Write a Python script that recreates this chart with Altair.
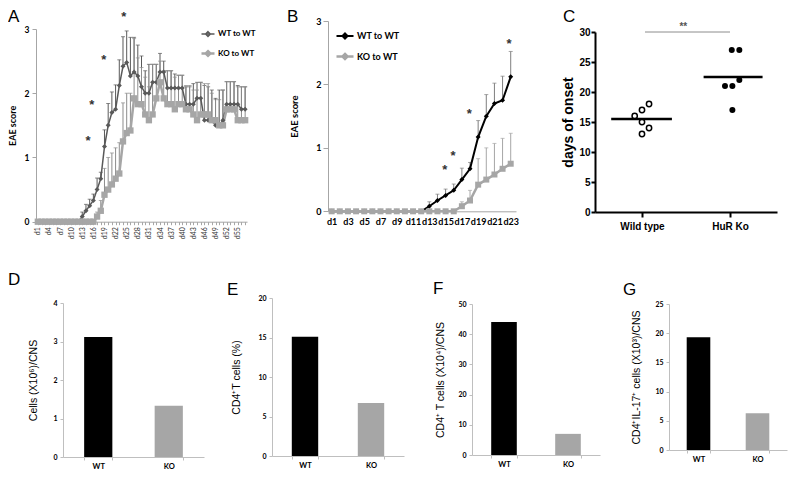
import altair as alt
import pandas as pd

XL = "Lato"              # Excel-style panels
PR = "Liberation Sans"   # Arial-style text

SERIES = ["WT to WT", "KO to WT"]

# ---------------- Panel A : EAE score d1..d57 ----------------
A_DAYS = list(range(1, 58))
A_WT = [0] * 12 + [0.08, 0.17, 0.25, 0.33, 0.5, 0.67, 1.17, 1.5, 1.7, 1.75, 2.12, 2.42, 2.48,
                   2.27, 2.33, 2.27, 2.1, 2.0, 2.0, 2.17, 2.17, 2.33, 2.33, 2.08, 2.08, 2.08,
                   2.08, 2.08, 1.83, 1.83, 1.83, 1.92, 1.92, 1.58, 1.58, 1.58, 1.5, 1.5, 1.58,
                   1.83, 1.83, 1.83, 1.83, 1.75, 1.75]
A_KO = [0] * 16 + [0.08, 0.17, 0.42, 0.5, 0.58, 0.67, 0.75, 1.25, 1.38, 1.42, 1.92, 1.83, 1.83,
                   1.67, 1.58, 1.67, 1.92, 2.17, 1.92, 1.83, 1.83, 1.75, 1.83, 1.83, 1.75, 1.75,
                   1.67, 1.58, 1.67, 1.67, 1.67, 1.58, 1.58, 1.5, 1.5, 1.75, 1.75, 1.75, 1.58,
                   1.58, 1.58]
A_WT_UP_FROM = 13
A_WT_UP = [0.15, 0.27, 0.35, 0.43, 0.68, 0.77, 1.43, 1.84, 2.02, 2.13, 2.52, 2.88, 2.97,
           2.87, 2.87, 2.75, 2.58, 2.35, 2.45, 2.45, 2.45, 2.62, 2.5, 2.35, 2.35, 2.3,
           2.28, 2.28, 2.1, 2.1, 2.15, 2.17, 2.17, 2.12, 2.1, 2.05, 1.92, 2.05, 2.05,
           2.18, 2.18, 2.18, 2.12, 2.1, 2.1]
A_KO_UP_FROM = 17
A_KO_UP = [0.15, 0.33, 0.83, 1.0, 1.07, 1.15, 1.23, 1.85, 2.0, 2.0, 2.85, 2.55, 2.4,
           2.25, 2.1, 2.45, 2.45, 2.5, 2.35, 2.35, 2.35, 2.25, 2.28, 2.28, 2.12, 2.12,
           2.05, 2.05, 2.17, 2.15, 2.15, 2.0, 1.9, 1.9, 2.05, 2.18, 2.18, 2.18, 2.1,
           2.1, 2.1]
A_STAR_DAY = [14.55, 15.6, 18.8, 24.2]
A_STAR_Y = [1.27, 1.84, 2.54, 3.2]

# ---------------- Panel B : EAE score d1..d23 ----------------
B_DAYS = list(range(1, 24))
B_WT = [0] * 12 + [0.08, 0.17, 0.25, 0.33, 0.5, 0.67, 1.17, 1.5, 1.7, 1.75, 2.12]
B_KO = [0] * 16 + [0.08, 0.17, 0.42, 0.5, 0.58, 0.67, 0.75]
B_WT_UP_FROM = 13
B_WT_UP = [0.15, 0.27, 0.35, 0.43, 0.68, 0.77, 1.43, 1.84, 2.02, 2.13, 2.52]
B_KO_UP_FROM = 17
B_KO_UP = [0.15, 0.33, 0.83, 1.0, 1.07, 1.15, 1.23]
B_STAR_DAY = [14.9, 15.9, 17.9, 22.8]
B_STAR_Y = [0.67, 0.89, 1.55, 2.66]
B_LABEL_DAYS = list(range(1, 24, 2))

# ---------------- Panel C : days of onset ----------------
C_WT_DAYS = [16, 17, 18, 15, 13, 14]
C_WT_JITTER = [-0.083, 0.0, 0.08, 0.0, 0.0, 0.08]
C_KO_DAYS = [27, 27, 22, 21, 21, 17]
C_KO_JITTER = [0.02, 0.106, 0.106, -0.057, 0.027, 0.027]
C_MEANS = [15.5, 22.5]
C_MEAN_FROM = [-0.35, -0.30]
C_MEAN_TO = [0.34, 0.37]

# ---------------- Panels D-G : bars ----------------
BAR_GROUPS = ["WT", "KO"]
D_VALUES = [3.12, 1.33]
E_VALUES = [15.1, 6.7]
F_VALUES = [44.0, 7.0]
G_VALUES = [19.3, 6.3]

GRAY_AX = "#a6a6a6"
H1 = 262   # height of the top row of cells
H2 = 200   # height of the bottom row of cells


def letter_layer(t, x, y):
    return alt.Chart(pd.DataFrame({"t": [t]})).mark_text(
        align="left", baseline="top", fontSize=17, font=PR, color="#000").encode(
        text="t:N", x=alt.value(x), y=alt.value(y))


def eae_panel(fld, days, wt, ko, wt_up_from, wt_up, ko_up_from, ko_up, s_day, s_y,
              colors, err_colors, line_w, pt_sizes, sym_path, sym_size, row_pad,
              leg_x, leg_y, leg_fs, xdom, xrange, yrange, x_axis, y_axis, cell_w, let):
    line_df = pd.DataFrame({
        "day": days + days,
        "value": wt + ko,
        fld: [SERIES[0]] * len(days) + [SERIES[1]] * len(days),
    })
    rows = []
    for i, u in enumerate(wt_up):
        d = wt_up_from + i
        rows.append({"day": d, "value": wt[d - 1], "upper": u, fld: SERIES[0]})
    for i, u in enumerate(ko_up):
        d = ko_up_from + i
        rows.append({"day": d, "value": ko[d - 1], "upper": u, fld: SERIES[1]})
    err_df = pd.DataFrame(rows)
    star_df = pd.DataFrame({"day": s_day, "value": s_y})

    xs = alt.Scale(domain=xdom, range=xrange, nice=False, zero=False)
    ys = alt.Scale(domain=[0, 3], range=yrange, nice=False)
    x = alt.X("day:Q", scale=xs, axis=x_axis, title=None)
    y = alt.Y("value:Q", scale=ys, axis=y_axis, title="EAE score")
    yu = alt.Y("upper:Q", scale=ys, axis=y_axis, title="EAE score")

    legend = alt.Legend(orient="none", legendX=leg_x, legendY=leg_y, title=None,
                        symbolType=sym_path, symbolSize=sym_size, symbolStrokeWidth=2,
                        labelFont=XL, labelFontSize=leg_fs, labelFontWeight="bold",
                        labelColor="#000", rowPadding=row_pad, labelOffset=2, padding=0)
    col = alt.Color(f"{fld}:N", scale=alt.Scale(domain=SERIES, range=colors), legend=legend)
    sw = alt.StrokeWidth(f"{fld}:N", scale=alt.Scale(domain=SERIES, range=line_w), legend=None)

    layers = []
    for k in range(2):
        e = alt.Chart(err_df).transform_filter(alt.FieldEqualPredicate(field=fld, equal=SERIES[k]))
        layers.append(e.mark_rule(strokeWidth=1, color=err_colors[k]).encode(
            x=x, y=y, y2="upper:Q"))
        layers.append(e.mark_tick(orient="horizontal", size=4, thickness=1,
                                  color=err_colors[k]).encode(x=x, y=yu))
    layers.append(alt.Chart(line_df).mark_line().encode(x=x, y=y, color=col, strokeWidth=sw))
    shapes = ["diamond", "square"]
    for k in range(2):
        layers.append(alt.Chart(line_df).transform_filter(
            alt.FieldEqualPredicate(field=fld, equal=SERIES[k])).mark_point(
            shape=shapes[k], filled=True, size=pt_sizes[k], opacity=1,
            color=colors[k]).encode(x=x, y=y))
    layers.append(alt.Chart(star_df).mark_text(text="*", fontSize=13, font=PR,
                                               fontWeight="bold", color="#333", dy=1).encode(
        x=x, y=y))
    layers.append(let)
    return alt.layer(*layers).properties(width=cell_w, height=H1)


# ---- A ----
A_X0, A_X1, A_YB, A_YT = 28, 239, 213.7, 21
a_x_axis = alt.Axis(values=A_DAYS,
                    labelExpr="(datum.value - 1) % 3 == 0 ? 'd' + datum.value : ''",
                    labelAngle=-90, labelFont=XL, labelFontSize=7, labelColor="#333",
                    labelPadding=2, tickSize=3, tickColor=GRAY_AX, domainColor=GRAY_AX,
                    labelOverlap=False, labelFlush=False, grid=False, offset=A_YB - H1)
a_y_axis = alt.Axis(values=[0, 1, 2, 3], domainColor=GRAY_AX, tickColor=GRAY_AX, tickSize=4,
                    labelPadding=3, labelFont=XL, labelFontWeight="bold", labelFontSize=8.5,
                    labelColor="#000", titleFont=XL, titleFontWeight="bold", titleFontSize=9,
                    titleColor="#000", titlePadding=7, grid=False, offset=-A_X0)
panel_a = eae_panel("seriesA", A_DAYS, A_WT, A_KO, A_WT_UP_FROM, A_WT_UP, A_KO_UP_FROM, A_KO_UP,
                    A_STAR_DAY, A_STAR_Y, ["#595959", "#a6a6a6"], ["#595959", "#8c8c8c"],
                    [1.5, 2.5], [25, 40], "M-1,0L1,0M0,-0.36L0.36,0L0,0.36L-0.36,0Z",
                    169, 6, 192, 18.5, 8, [0.5, 57.5], [A_X0, A_X1], [A_YB, A_YT],
                    a_x_axis, a_y_axis, 268, letter_layer("A", 0, 1))

# ---- B ----
B_X0, B_X1, B_YB, B_YT = 52, 240, 203.3, 13
b_x_axis = alt.Axis(values=B_LABEL_DAYS, labelExpr="'d' + datum.value", ticks=False,
                    labelFont=XL, labelFontSize=9, labelFontWeight="bold", labelColor="#000",
                    labelPadding=6, domainColor=GRAY_AX, labelOverlap=False, labelFlush=False,
                    grid=False, offset=B_YB - H1)
b_y_axis = alt.Axis(values=[0, 1, 2, 3], domainColor=GRAY_AX, tickColor=GRAY_AX, tickSize=5,
                    labelPadding=2, labelFont=XL, labelFontWeight="bold", labelFontSize=9,
                    labelColor="#000", titleFont=XL, titleFontWeight="bold", titleFontSize=9.5,
                    titleColor="#000", titlePadding=16, grid=False, offset=-B_X0)
panel_b = eae_panel("seriesB", B_DAYS, B_WT, B_KO, B_WT_UP_FROM, B_WT_UP, B_KO_UP_FROM, B_KO_UP,
                    B_STAR_DAY, B_STAR_Y, ["#000000", "#a6a6a6"], ["#7f7f7f", "#a6a6a6"],
                    [2, 2.5], [25, 36], "M-1,0L1,0M0,-0.3L0.3,0L0,0.3L-0.3,0Z",
                    289, 3, 59, 18.5, 9, [0.55, 23.65], [B_X0, B_X1], [B_YB, B_YT],
                    b_x_axis, b_y_axis, 277, letter_layer("B", 11, 1))

# ---- C ----
C_X0, C_X1, C_YB, C_YT = 42, 224, 204, 24
wt_c = pd.DataFrame({"x": [1 + j for j in C_WT_JITTER], "days": C_WT_DAYS})
ko_c = pd.DataFrame({"x": [2 + j for j in C_KO_JITTER], "days": C_KO_DAYS})
mean_c = pd.DataFrame({"x": [1 + C_MEAN_FROM[0], 2 + C_MEAN_FROM[1]],
                       "x2": [1 + C_MEAN_TO[0], 2 + C_MEAN_TO[1]], "days": C_MEANS})
sig_c = pd.DataFrame({"x": [1.034], "x2": [2.0], "days": [30]})
sig_t = pd.DataFrame({"x": [1.47], "days": [31.2]})

c_xs = alt.Scale(domain=[0.466, 2.534], range=[C_X0, C_X1], nice=False, zero=False)
c_ys = alt.Scale(domain=[0, 30], range=[C_YB, C_YT], nice=False)
c_x = alt.X("x:Q", scale=c_xs, title=None,
            axis=alt.Axis(values=[1, 2], labelExpr="datum.value == 1 ? 'Wild type' : 'HuR Ko'",
                          domainColor="#000", domainWidth=2, tickColor="#000", tickWidth=2,
                          tickSize=5, labelFont=PR, labelFontWeight="bold", labelFontSize=10,
                          labelColor="#000", labelPadding=4, grid=False, labelFlush=False,
                          offset=C_YB - H1))
c_y = alt.Y("days:Q", scale=c_ys, title="days of onset",
            axis=alt.Axis(values=list(range(0, 31, 5)), domainColor="#000", domainWidth=2,
                          tickColor="#000", tickWidth=2, tickSize=4, labelFont=PR,
                          labelFontWeight="bold", labelFontSize=10, labelColor="#000",
                          labelPadding=1, titleFont=PR, titleFontWeight="bold",
                          titleFontSize=14, titleColor="#000", titlePadding=3, grid=False,
                          offset=-C_X0))
c_wt = alt.Chart(wt_c).mark_point(shape="circle", filled=False, size=28, strokeWidth=1.5,
                                  color="#000", opacity=1).encode(x=c_x, y=c_y)
c_ko = alt.Chart(ko_c).mark_point(shape="circle", filled=True, size=36, color="#000",
                                  opacity=1).encode(x=c_x, y=c_y)
c_mean = alt.Chart(mean_c).mark_rule(strokeWidth=2.5, color="#000").encode(
    x=c_x, x2="x2:Q", y=c_y)
c_sig = alt.Chart(sig_c).mark_rule(strokeWidth=1, color="#8c8c8c").encode(
    x=c_x, x2="x2:Q", y=c_y)
c_txt = alt.Chart(sig_t).mark_text(text="**", fontSize=10, font=PR, fontWeight="bold",
                                   color="#555", dy=2).encode(x=c_x, y=c_y)
panel_c = alt.layer(c_sig, c_txt, c_mean, c_wt, c_ko, letter_layer("C", 10, 1)).properties(
    width=236, height=H1)


# ---- D-G ----
def bar_panel(vals, ymax, ystep, ytitle, tpad, cell_w, xr, yr, let):
    df = pd.DataFrame({"group": BAR_GROUPS, "value": vals})
    bars = alt.Chart(df).mark_bar().encode(
        x=alt.X("group:N", sort=BAR_GROUPS, title=None,
                scale=alt.Scale(paddingInner=0.6, paddingOuter=0.3, range=xr),
                axis=alt.Axis(tickBand="extent", labelAngle=0, tickSize=3, tickColor="#bfbfbf",
                              domainColor="#bfbfbf", labelFont=XL, labelFontWeight="bold",
                              labelFontSize=7.5, labelColor="#000", labelPadding=2,
                              grid=False, offset=yr[0] - H2)),
        y=alt.Y("value:Q", title=ytitle, scale=alt.Scale(domain=[0, ymax], range=yr, nice=False),
                axis=alt.Axis(values=list(range(0, ymax + 1, ystep)), tickSize=3,
                              tickColor="#bfbfbf", domainColor="#bfbfbf", labelFont=XL,
                              labelFontWeight="bold", labelFontSize=7, labelColor="#000",
                              labelPadding=3, titleFont=PR, titleFontWeight="normal",
                              titleFontSize=10.5, titleColor="#000", titlePadding=tpad,
                              grid=False, offset=-xr[0])),
        color=alt.Color("group:N", scale=alt.Scale(domain=BAR_GROUPS,
                                                   range=["#000000", "#a6a6a6"]),
                        legend=None),
    )
    return alt.layer(bars, let).properties(width=cell_w, height=H2)


panel_d = bar_panel(D_VALUES, 4, 1, "Cells (X10⁶)/CNS", 14, 200, [55, 196], [187, 33],
                    letter_layer("D", 0, 2))
panel_e = bar_panel(E_VALUES, 20, 5, "CD4⁺T cells (%)", 16, 200, [64, 196], [186, 28],
                    letter_layer("E", 19, 12))
panel_f = bar_panel(F_VALUES, 50, 10, "CD4⁺ T cells (X10⁴)/CNS", 12, 195, [64, 192], [185, 34],
                    letter_layer("F", 25, 11))
panel_g = bar_panel(G_VALUES, 25, 5, "CD4⁺IL-17⁺ cells (X10³)/CNS", 13, 186, [66, 184],
                    [180, 34], letter_layer("G", 20, 12))

row1 = alt.hconcat(panel_a, panel_b, panel_c, spacing=0).resolve_scale(
    x="independent", y="independent", color="independent", strokeWidth="independent"
).resolve_legend(color="independent")
row2 = alt.hconcat(panel_d, panel_e, panel_f, panel_g, spacing=0).resolve_scale(
    x="independent", y="independent", color="independent")

chart = alt.vconcat(row1, row2, spacing=0).properties(
    padding=0, background="white").configure_view(stroke=None)

chart.save("out.html", embed_options={"renderer": "svg", "actions": False})
